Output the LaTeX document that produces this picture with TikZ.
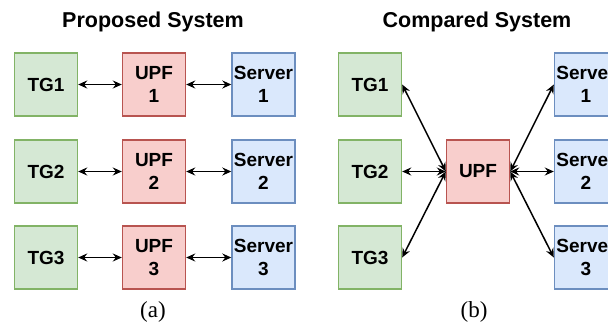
\documentclass[tikz,border=0pt]{standalone}
\usepackage{fontspec}
\setmainfont{Liberation Sans}
\newfontfamily\capfont{Liberation Serif}
\usetikzlibrary{arrows.meta}
\definecolor{gfill}{HTML}{D5E8D4}\definecolor{gdraw}{HTML}{82B366}
\definecolor{rfill}{HTML}{F8CECC}\definecolor{rdraw}{HTML}{B85450}
\definecolor{bfill}{HTML}{DAE8FC}\definecolor{bdraw}{HTML}{6C8EBF}
\tikzset{
  box/.style={minimum width=63pt,minimum height=63pt,line width=1.4pt,inner sep=0pt,align=center,
    font=\fontsize{19}{23}\selectfont\bfseries},
  tg/.style={box,fill=gfill,draw=gdraw},
  upf/.style={box,fill=rfill,draw=rdraw},
  srv/.style={box,fill=bfill,draw=bdraw},
  link/.style={line width=1.5pt,{Stealth[length=9pt,width=8pt,inset=3pt]}-{Stealth[length=9pt,width=8pt,inset=3pt]}},
  ttl/.style={font=\fontsize{21.5}{25}\selectfont\bfseries},
  captxt/.style={font=\capfont\fontsize{23}{27}\selectfont}
}
\begin{document}
\begin{tikzpicture}[x=1pt,y=-1pt]
\path[use as bounding box] (0,0) rectangle (608,325);
\clip (0,0) rectangle (608,325);
\node[ttl] (t1) at (153,22) {Proposed System};
\node[ttl] (t2) at (477,22) {Compared System};
% (a)
\node[tg] (a1) at (46,84.5) {TG1};
\node[tg] (a2) at (46,171.5) {TG2};
\node[tg] (a3) at (46,257.5) {TG3};
\node[upf] (u1) at (154,84.5) {UPF\\1};
\node[upf] (u2) at (154,171.5) {UPF\\2};
\node[upf] (u3) at (154,257.5) {UPF\\3};
\node[srv] (s1) at (263.5,84.5) {Server\\1};
\node[srv] (s2) at (263.5,171.5) {Server\\2};
\node[srv] (s3) at (263.5,257.5) {Server\\3};
\foreach \i in {1,2,3}{
  \draw[link] (a\i.east) -- (u\i.west);
  \draw[link] (u\i.east) -- (s\i.west);
}
\node[captxt] (ca) at (153,312) {(a)};
% (b)
\node[tg] (b1) at (370,84.5) {TG1};
\node[tg] (b2) at (370,171.5) {TG2};
\node[tg] (b3) at (370,257.5) {TG3};
\node[upf] (u) at (478,171.5) {UPF};
\node[srv] (r1) at (586,84.5) {Server\\1};
\node[srv] (r2) at (586,171.5) {Server\\2};
\node[srv] (r3) at (586,257.5) {Server\\3};
\foreach \i in {1,2,3}{
  \draw[link] (b\i.east) -- (u.west);
  \draw[link] (u.east) -- (r\i.west);
}
\node[captxt] (cb) at (474,312) {(b)};
\end{tikzpicture}
\end{document}
